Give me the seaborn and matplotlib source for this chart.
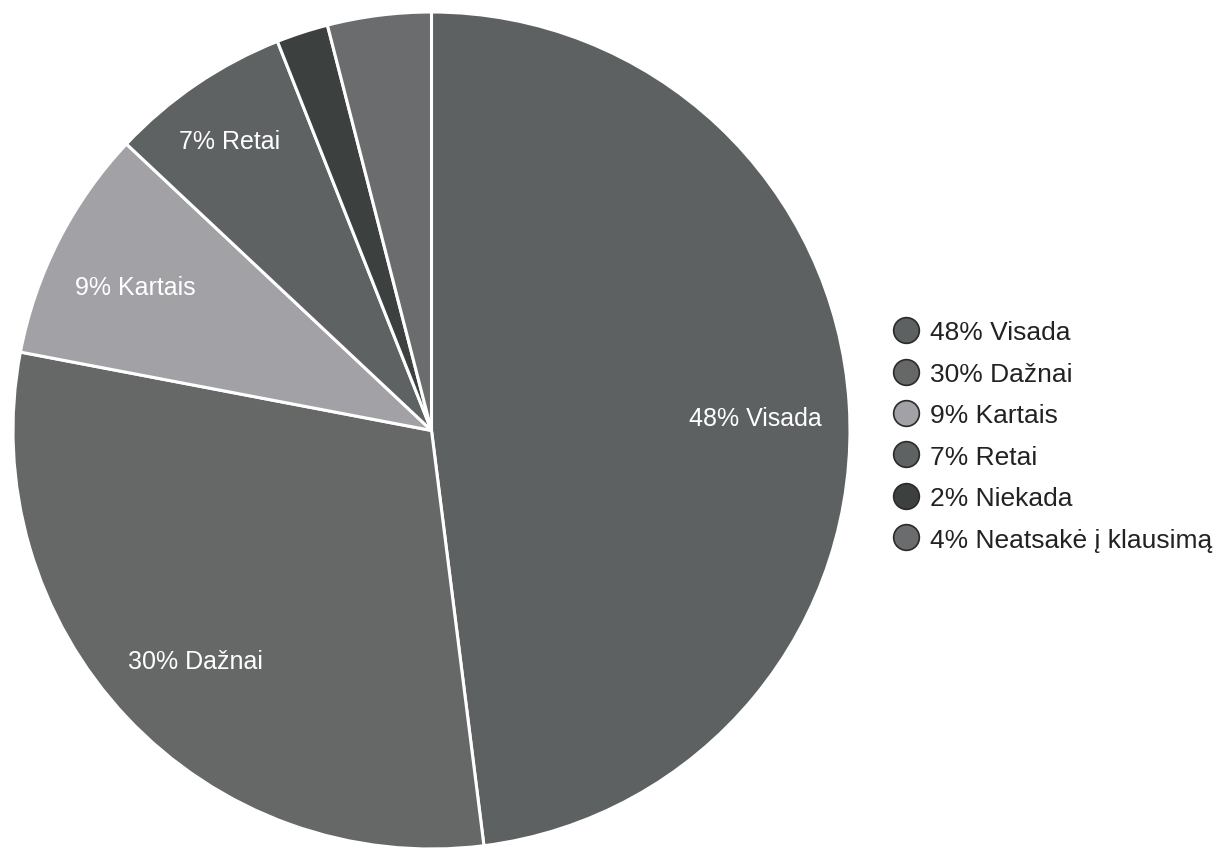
import matplotlib
matplotlib.use("Agg")
import numpy as np
import matplotlib.pyplot as plt
from matplotlib.lines import Line2D
import seaborn as sns

# --- DATA ---
categories = ["Visada", "Dažnai", "Kartais", "Retai", "Niekada", "Neatsakė į klausimą"]
shares = [48, 30, 9, 7, 2, 4]
colors = ["#5e6161", "#666868", "#a2a2a6", "#5f6262", "#3c403f", "#6a6c6e"]
show_inside = [True, True, True, True, False, False]
# ------------

# layout
W, H = 1217, 853
CX, CY, R = 431.5, H - 431.5, 418.5
LABEL_R = [0.775, 0.775, 0.795, 0.86]
LABEL_DY = -8

sns.set_theme(style="white")
plt.rcParams['font.family'] = ['Liberation Sans', 'DejaVu Sans']

fig = plt.figure(figsize=(W / 100, H / 100), dpi=100)
ax = fig.add_axes([0, 0, 1, 1])

labels = [f"{v}% {c}" for v, c in zip(shares, categories)]

wedges, _ = ax.pie(
    shares, colors=colors, startangle=90, counterclock=False,
    center=(CX, CY), radius=R, frame=True,
    wedgeprops=dict(edgecolor="white", linewidth=2.2),
)
ax.set_xlim(0, W)
ax.set_ylim(0, H)
ax.set_aspect("equal")
ax.axis("off")

# labels inside the bigger slices
k = 0
for w, lab, show in zip(wedges, labels, show_inside):
    if not show:
        continue
    mid = np.deg2rad((w.theta1 + w.theta2) / 2)
    rr = R * LABEL_R[k]
    k += 1
    ax.text(CX + rr * np.cos(mid), CY + rr * np.sin(mid) + LABEL_DY, lab,
            color="white", fontsize=18, ha="center", va="center")

handles = [Line2D([], [], marker="o", linestyle="", markersize=18.5,
                  markerfacecolor=c, markeredgecolor="#2a2a2a", markeredgewidth=1.2)
           for c in colors]
fig.legend(handles, labels, loc="center left", bbox_to_anchor=(893 / W, 1 - 437 / H),
           frameon=False, fontsize=19, handletextpad=0.42, labelspacing=0.66,
           borderpad=0, borderaxespad=0, handlelength=1.0, labelcolor="#222222")

fig.savefig("out.png", dpi=100)
